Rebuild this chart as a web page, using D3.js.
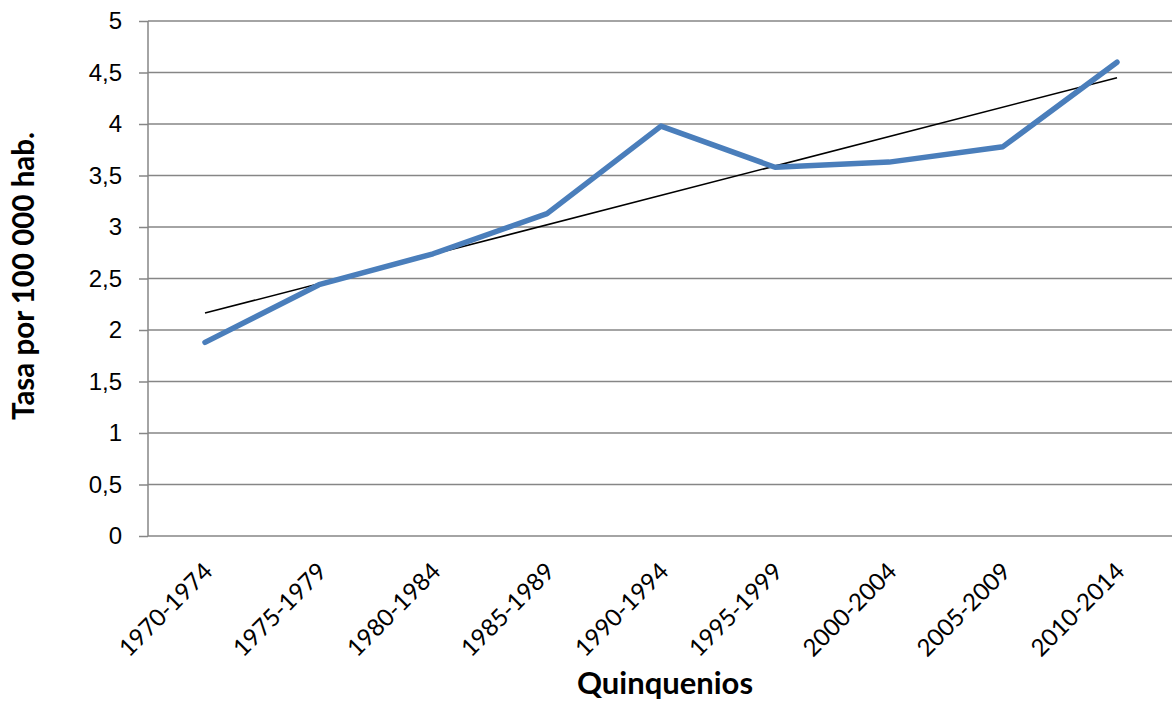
<!DOCTYPE html>
<html>
<head>
<meta charset="utf-8">
<script src="https://cdn.jsdelivr.net/npm/d3@7.8.5/dist/d3.min.js"></script>
<style>
  body { margin: 0; background: #fff; }
  svg { font-family: Lato, "Open Sans", sans-serif; }
</style>
</head>
<body>
<div id="chart"></div>
<script>
const periods = ["1970-1974", "1975-1979", "1980-1984", "1985-1989", "1990-1994",
  "1995-1999", "2000-2004", "2005-2009", "2010-2014"]
const rates = [1.88, 2.44, 2.74, 3.13, 3.98, 3.58, 3.63, 3.78, 4.60]
const yTicks = [0, 0.5, 1, 1.5, 2, 2.5, 3, 3.5, 4, 4.5, 5]

const width = 1172, height = 703
const margin = { top: 21, right: 0, bottom: 167, left: 148 }

const svg = d3.select("#chart").append("svg")
  .attr("width", width).attr("height", height)

const x = d3.scaleBand()
  .domain(periods)
  .range([margin.left, margin.left + 9 * 114])

const y = d3.scaleLinear()
  .domain([0, 5])
  .range([536, margin.top])

const fmt = d => String(d).replace(".", ",")

// y axis ticks + labels
svg.append("g")
  .attr("transform", `translate(${margin.left},0)`)
  .call(d3.axisLeft(y).tickValues(yTicks).tickFormat(fmt).tickSize(9).tickPadding(17))
  .call(g => g.select(".domain").remove())
  .call(g => g.selectAll(".tick line").attr("stroke", "#868686").attr("stroke-width", 1.5))
  .call(g => g.selectAll(".tick text").attr("font-size", 24).attr("fill", "#000"))

// gridlines
svg.append("g")
  .selectAll("line")
  .data(yTicks)
  .join("line")
    .attr("x1", margin.left).attr("x2", width)
    .attr("y1", d => y(d)).attr("y2", d => y(d))
    .attr("stroke", "#868686").attr("stroke-width", 1.5)

svg.append("line")
  .attr("x1", margin.left).attr("x2", margin.left)
  .attr("y1", y(0)).attr("y2", y(5))
  .attr("stroke", "#868686").attr("stroke-width", 1.5)

// x labels
const cx = d => x(d) + x.bandwidth() / 2
svg.append("g")
  .selectAll("text")
  .data(periods)
  .join("text")
    .attr("transform", d => `translate(${cx(d) + 9},${y(0) + 37}) rotate(-45)`)
    .attr("text-anchor", "end")
    .attr("font-size", 24)
    .text(d => d)

// trend line (least squares)
const xs = periods.map((d, i) => i + 1)
const mx = d3.mean(xs), my = d3.mean(rates)
const slope = d3.sum(xs, (v, i) => (v - mx) * (rates[i] - my)) / d3.sum(xs, v => (v - mx) ** 2)
const icpt = my - slope * mx

svg.append("line")
  .attr("x1", cx(periods[0])).attr("y1", y(icpt + slope * 1))
  .attr("x2", cx(periods[8])).attr("y2", y(icpt + slope * 9))
  .attr("stroke", "#000").attr("stroke-width", 1.5)

// data line
svg.append("path")
  .datum(rates)
  .attr("fill", "none")
  .attr("stroke", "#4a7ebb")
  .attr("stroke-width", 5.5)
  .attr("stroke-linecap", "round")
  .attr("stroke-linejoin", "round")
  .attr("d", d3.line().x((d, i) => cx(periods[i])).y(d => y(d)))

// titles
svg.append("text")
  .attr("x", 665).attr("y", 694)
  .attr("text-anchor", "middle")
  .attr("font-size", 31).attr("font-weight", "bold")
  .text("Quinquenios")

svg.append("text")
  .attr("transform", `translate(34,276) rotate(-90)`)
  .attr("text-anchor", "middle")
  .attr("font-size", 29.5).attr("font-weight", "bold")
  .text("Tasa por 100 000 hab.")
</script>
</body>
</html>
